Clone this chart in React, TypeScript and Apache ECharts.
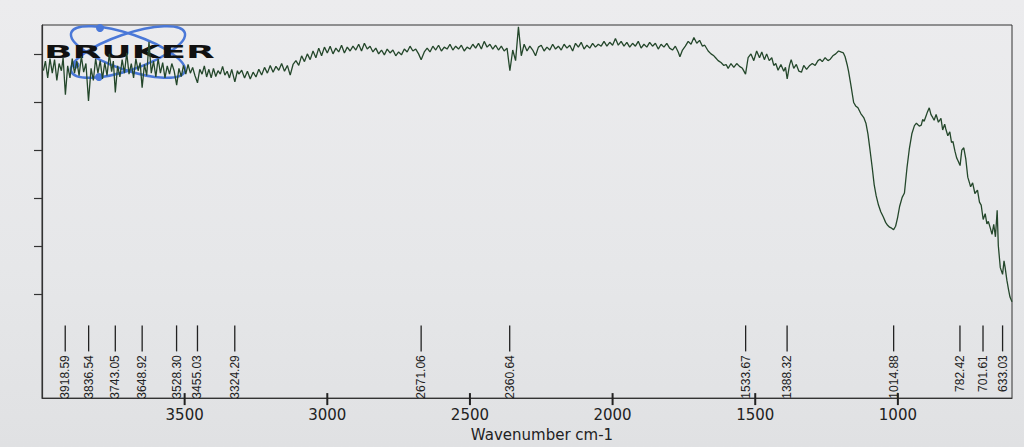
import React, { useEffect, useRef } from "react";
import * as echarts from "echarts";

// ---- Data (wavenumber cm-1, relative transmittance) ----
const hydroxylRegion: [number, number][] = [
  [3995, 76.5], [3988, 78.5], [3980, 75.0], [3972, 79.0], [3964, 76.0], [3956, 78.8], [3948, 74.5], [3940, 78.0],
  [3932, 76.5], [3926, 79.2], [3918, 71.5], [3910, 77.5], [3902, 75.0], [3894, 79.0], [3886, 76.0], [3878, 78.5],
  [3870, 75.5], [3862, 79.5], [3854, 76.2], [3846, 78.0], [3837, 70.2], [3828, 77.0], [3820, 74.5], [3812, 79.0],
  [3804, 76.0], [3796, 78.6], [3788, 74.8], [3780, 78.2], [3772, 75.5], [3764, 80.0], [3756, 76.3], [3750, 78.5],
  [3743, 72.0], [3735, 77.5], [3727, 75.2], [3719, 78.8], [3711, 76.0], [3703, 80.2], [3695, 75.8], [3687, 78.0],
  [3679, 75.0], [3671, 79.0], [3663, 76.5], [3656, 78.2], [3649, 73.0], [3641, 77.8], [3633, 75.5], [3625, 82.5],
  [3617, 76.0], [3609, 78.5], [3601, 75.2], [3593, 79.0], [3585, 76.0], [3577, 78.2], [3569, 75.0], [3561, 77.5],
  [3553, 75.8], [3545, 78.0], [3537, 76.5], [3528, 73.5], [3520, 77.0], [3512, 75.3], [3504, 77.6], [3496, 75.8],
  [3488, 77.8], [3480, 76.0], [3472, 77.2], [3464, 75.5], [3455, 74.0], [3447, 76.8], [3439, 75.8], [3431, 77.5],
  [3423, 75.2], [3415, 76.8], [3407, 75.0], [3399, 77.0], [3391, 75.3], [3383, 76.5], [3375, 75.8], [3367, 77.4],
  [3359, 75.6], [3351, 76.4], [3343, 75.0], [3335, 76.8], [3324, 74.2], [3315, 76.5],
];

const midRegion: [number, number][] = [
  [3310, 75.8], [3300, 76.6], [3290, 75.0], [3280, 76.4], [3270, 74.8], [3260, 76.2], [3250, 75.2], [3240, 76.8],
  [3230, 75.6], [3220, 77.2], [3210, 76.0], [3200, 77.6], [3190, 76.2], [3180, 77.4], [3170, 76.6], [3160, 78.0],
  [3150, 76.4], [3140, 77.6], [3130, 75.6], [3120, 77.8], [3110, 78.6], [3100, 77.6], [3090, 79.6], [3080, 78.4],
  [3070, 80.0], [3060, 78.8], [3050, 80.6], [3040, 79.2], [3030, 81.2], [3020, 79.6], [3010, 81.4], [3000, 80.2],
  [2990, 81.6], [2980, 80.0], [2970, 81.2], [2960, 80.4], [2950, 81.8], [2940, 80.2], [2930, 81.4], [2920, 80.6],
  [2910, 81.6], [2900, 80.8], [2890, 82.0], [2880, 80.6], [2870, 82.2], [2860, 81.0], [2850, 81.6], [2840, 80.4],
  [2830, 81.2], [2820, 80.0], [2810, 80.8], [2800, 79.8], [2790, 81.0], [2780, 80.2], [2770, 80.8], [2760, 79.6],
  [2750, 80.4], [2740, 79.8], [2730, 81.0], [2720, 80.4], [2710, 81.6], [2700, 80.6], [2690, 81.0], [2680, 80.0],
  [2671, 78.8], [2660, 80.4], [2650, 81.2], [2640, 80.4], [2630, 81.6], [2620, 80.8], [2610, 81.8], [2600, 80.6],
  [2590, 81.4], [2580, 81.0], [2570, 82.0], [2560, 80.8], [2550, 81.6], [2540, 81.0], [2530, 81.8], [2520, 80.6],
  [2510, 81.4], [2500, 81.0], [2490, 82.0], [2480, 81.2], [2470, 82.2], [2460, 81.0], [2450, 82.6], [2440, 81.4],
  [2430, 82.0], [2420, 81.0], [2410, 81.8], [2400, 80.8], [2390, 81.6], [2380, 80.6], [2370, 81.2], [2360, 76.5],
  [2350, 80.8], [2340, 78.6], [2330, 85.6], [2320, 79.6], [2310, 82.0], [2300, 80.6], [2290, 81.6], [2280, 80.8],
  [2270, 79.6], [2260, 81.4], [2250, 81.8], [2240, 80.6], [2230, 81.4], [2220, 80.8], [2210, 82.0], [2200, 81.0],
  [2190, 81.6], [2180, 80.8], [2170, 82.0], [2160, 81.2], [2150, 81.8], [2140, 80.6], [2130, 82.2], [2120, 81.4],
  [2110, 82.4], [2100, 81.0], [2090, 81.8], [2080, 81.2], [2070, 82.2], [2060, 81.4], [2050, 82.0], [2040, 81.6],
  [2030, 82.6], [2020, 81.6], [2010, 82.4], [2000, 81.8], [1990, 83.2], [1980, 81.8], [1970, 82.6], [1960, 81.6],
  [1950, 82.4], [1940, 81.4], [1930, 82.2], [1920, 81.6], [1910, 82.6], [1900, 81.2], [1890, 82.0], [1880, 81.4],
  [1870, 82.4], [1860, 81.6], [1850, 82.2], [1840, 81.0], [1830, 82.0], [1820, 81.4], [1810, 82.2],
];

const fingerprintRegion: [number, number][] = [
  [1800, 81.2], [1790, 80.8], [1780, 81.6], [1770, 80.4], [1764, 79.4], [1755, 80.8], [1745, 81.6], [1735, 82.6],
  [1725, 82.0], [1715, 83.4], [1705, 82.2], [1695, 82.8], [1685, 81.6], [1677, 81.8], [1665, 80.6], [1655, 80.0],
  [1645, 79.6], [1639, 79.2], [1630, 78.6], [1620, 78.2], [1610, 77.6], [1602, 77.8], [1595, 77.0], [1585, 78.0],
  [1575, 77.2], [1565, 78.0], [1555, 77.4], [1545, 77.0], [1534, 75.8], [1525, 79.2], [1515, 80.0], [1505, 78.6],
  [1495, 80.6], [1485, 79.2], [1477, 80.4], [1468, 78.8], [1460, 80.0], [1451, 78.6], [1442, 79.2], [1435, 77.6],
  [1428, 78.0], [1420, 76.6], [1410, 77.8], [1400, 76.4], [1394, 77.2], [1388, 74.8], [1380, 77.6], [1374, 78.8],
  [1365, 77.0], [1356, 77.8], [1347, 76.4], [1338, 76.2], [1330, 77.6], [1320, 76.8], [1309, 77.6], [1300, 78.0],
  [1290, 77.6], [1280, 78.6], [1273, 78.9], [1265, 78.4], [1255, 79.2], [1245, 78.6], [1237, 78.9], [1228, 79.6],
  [1218, 80.0], [1208, 80.6], [1200, 80.4], [1191, 80.2], [1185, 79.4], [1178, 77.8], [1173, 76.4], [1165, 73.6],
  [1155, 69.9], [1148, 69.2], [1140, 68.8], [1130, 67.6], [1119, 66.7], [1112, 65.6], [1105, 63.4], [1098, 60.2],
  [1090, 56.4], [1083, 52.8], [1076, 50.5], [1068, 48.6], [1060, 47.2], [1051, 46.1], [1043, 45.0], [1036, 44.4],
  [1029, 44.0], [1022, 43.8], [1015, 43.5], [1008, 44.2], [1001, 46.0], [994, 48.3], [985, 50.2], [977, 51.1],
  [968, 56.4], [960, 60.2], [951, 63.4], [942, 65.1], [935, 65.6], [925, 65.0], [918, 65.2], [913, 66.4],
  [908, 66.0], [902, 67.0], [896, 68.0], [890, 68.8], [884, 67.4], [878, 66.8], [873, 66.2], [866, 67.4],
  [858, 65.8], [849, 66.6], [843, 64.2], [836, 65.4], [832, 64.4], [825, 63.0], [818, 63.8], [812, 61.6],
  [807, 61.8], [800, 59.8], [794, 58.4], [790, 57.9], [782, 56.8], [776, 60.0], [769, 60.5], [762, 58.2],
  [755, 54.4], [748, 53.0], [745, 52.4], [738, 53.2], [730, 51.0], [721, 51.7], [714, 49.2], [708, 48.6],
  [701, 45.6], [694, 46.8], [688, 44.7], [683, 45.2], [676, 43.8], [670, 42.5], [664, 44.6], [658, 42.0],
  [652, 47.5], [648, 40.2], [641, 35.6], [633, 34.2], [628, 37.0], [624, 35.6], [618, 33.0], [612, 31.0],
  [607, 29.5], [600, 28.5],
];

const peakWavenumbers = [
  3918.59, 3836.54, 3743.05, 3648.92, 3528.3, 3455.03, 3324.29, 2671.06, 2360.64, 1533.67, 1388.32, 1014.88,
  782.42, 701.61, 633.03,
];

const xTickValues = [3500, 3000, 2500, 2000, 1500, 1000];
const yTickValues = [30, 40, 50, 60, 70, 80];

// ---- Layout constants (styling only) ----
const Y_MIN = 8.5;
const Y_MAX = 86;
const PEAK_LINE_TOP = 23.6;
const PEAK_LINE_BOTTOM = 18.2;
const PEAK_TEXT_TOP = 17.4;
const INK = "#333333";

export default function App() {
  const ref = useRef<HTMLDivElement>(null);

  useEffect(() => {
    if (!ref.current) return;
    const chart = echarts.init(ref.current, undefined, { renderer: "svg" });

    const trace = [...hydroxylRegion, ...midRegion, ...fingerprintRegion];

    const renderPeak = (params: any, api: any) => {
      const wn = api.value(0);
      const top = api.coord([wn, PEAK_LINE_TOP]);
      const bottom = api.coord([wn, PEAK_LINE_BOTTOM]);
      const textTop = api.coord([wn, PEAK_TEXT_TOP]);
      return {
        type: "group",
        children: [
          {
            type: "line",
            shape: { x1: top[0], y1: top[1], x2: bottom[0], y2: bottom[1] },
            style: { stroke: "#222", lineWidth: 1.3 },
          },
          {
            type: "text",
            x: textTop[0],
            y: textTop[1],
            rotation: Math.PI / 2,
            style: {
              text: Number(wn).toFixed(2),
              fontFamily: "Liberation Sans",
              fontSize: 12,
              fill: "#222",
              align: "right",
              verticalAlign: "middle",
            },
          },
        ],
      };
    };

    const logoBlue = "#4a78d8";
    const logo: any[] = [
      {
        type: "ellipse",
        x: 128,
        y: 52,
        rotation: 0.33,
        shape: { cx: 0, cy: 0, rx: 60, ry: 18 },
        style: { fill: "none", stroke: logoBlue, lineWidth: 2.5 },
        z: 0,
      },
      {
        type: "ellipse",
        x: 128,
        y: 52,
        rotation: -0.33,
        shape: { cx: 0, cy: 0, rx: 60, ry: 18 },
        style: { fill: "none", stroke: logoBlue, lineWidth: 2.5 },
        z: 0,
      },
      { type: "circle", shape: { cx: 100, cy: 28, r: 4 }, style: { fill: logoBlue }, z: 0 },
      { type: "circle", shape: { cx: 99, cy: 77, r: 4 }, style: { fill: logoBlue }, z: 0 },
      { type: "circle", shape: { cx: 76, cy: 65, r: 3.5 }, style: { fill: logoBlue }, z: 0 },
      {
        type: "text",
        x: 44,
        y: 52,
        scaleX: 2.2,
        scaleY: 1,
        style: {
          text: "BRUKER",
          fontFamily: "DejaVu Sans",
          fontWeight: "bold",
          fontSize: 17,
          fill: "#111",
          align: "left",
          verticalAlign: "middle",
        },
        z: 1,
      },
    ];

    chart.setOption({
      animation: false,
      backgroundColor: "transparent",
      grid: {
        left: 42,
        right: 12,
        top: 25,
        bottom: 45,
        show: true,
        borderColor: INK,
        borderWidth: 1,
        backgroundColor: "transparent",
      },
      xAxis: {
        type: "value",
        min: 600,
        max: 4000,
        inverse: true,
        name: "Wavenumber cm-1",
        nameLocation: "middle",
        nameGap: 22,
        nameTextStyle: {
          fontFamily: "DejaVu Sans",
          fontSize: 15,
          color: "#222",
          padding: [0, 0, 0, 30],
        },
        axisLine: { show: true, lineStyle: { color: INK, width: 1 } },
        axisTick: { show: false },
        axisLabel: {
          customValues: xTickValues,
          formatter: (v: number) => String(v),
          margin: 9,
          fontFamily: "DejaVu Sans",
          fontSize: 15,
          color: "#222",
        },
        splitLine: { show: false },
      },
      yAxis: {
        type: "value",
        min: Y_MIN,
        max: Y_MAX,
        axisLine: { show: true, lineStyle: { color: INK, width: 1.2 } },
        axisTick: {
          show: true,
          inside: false,
          length: 8,
          customValues: yTickValues,
          lineStyle: { color: INK, width: 1.2 },
        },
        axisLabel: { show: false },
        splitLine: { show: false },
      },
      graphic: logo,
      series: [
        {
          type: "line",
          data: trace,
          symbol: "none",
          showSymbol: false,
          lineStyle: { color: "#24472b", width: 1.3 },
          z: 3,
          silent: true,
        },
        {
          type: "custom",
          renderItem: renderPeak,
          data: peakWavenumbers.map((w) => [w]),
          encode: { x: 0 },
          z: 4,
          silent: true,
        },
      ],
    });

    // x-axis tick marks placed through the axis scale
    const ticks = xTickValues.map((v) => {
      const p = chart.convertToPixel({ xAxisIndex: 0, yAxisIndex: 0 }, [v, Y_MIN]) as number[];
      return {
        type: "rect",
        shape: { x: p[0] - 1, y: p[1] - 5, width: 2, height: 12 },
        style: { fill: "#222" },
        z: 10,
      };
    });
    chart.setOption({ graphic: [...logo, ...ticks] });

    return () => {
      chart.dispose();
    };
  }, []);

  return (
    <div
      style={{
        position: "absolute",
        left: 0,
        top: 0,
        width: 1024,
        height: 447,
        background: "linear-gradient(180deg, #ececee 0%, #e6e7e9 60%, #e0e1e3 100%)",
      }}
    >
      <div ref={ref} style={{ width: 1024, height: 447 }} />
    </div>
  );
}
